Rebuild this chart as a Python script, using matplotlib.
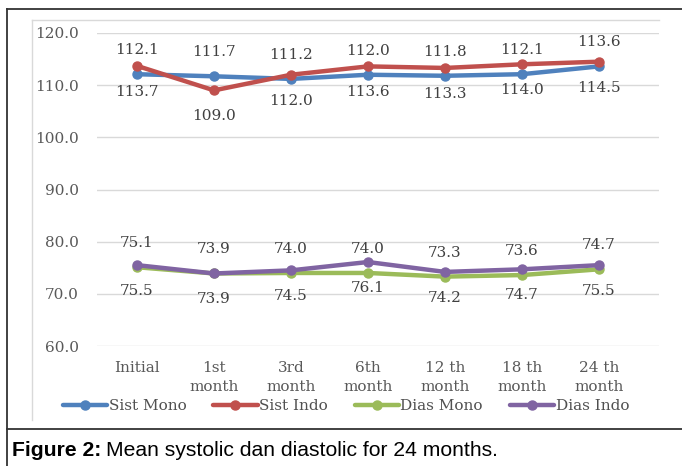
import matplotlib.pyplot as plt
from matplotlib.lines import Line2D

# data
months = ['Initial', '1st\nmonth', '3rd\nmonth', '6th\nmonth', '12 th\nmonth', '18 th\nmonth', '24 th\nmonth']
sist_mono = [112.1, 111.7, 111.2, 112.0, 111.8, 112.1, 113.6]
sist_indo = [113.7, 109.0, 112.0, 113.6, 113.3, 114.0, 114.5]
dias_mono = [75.1, 73.9, 74.0, 74.0, 73.3, 73.6, 74.7]
dias_indo = [75.5, 73.9, 74.5, 76.1, 74.2, 74.7, 75.5]
series_names = ['Sist Mono', 'Sist Indo', 'Dias Mono', 'Dias Indo']
y_ticks = [60, 70, 80, 90, 100, 110, 120]

colors = ['#4F81BD', '#C0504D', '#9BBB59', '#8064A2']
# label above (True) or below (False) the point
label_above = [True, False, True, False]

plt.rcParams['font.family'] = ['DejaVu Serif']

W, H = 682, 466
fig = plt.figure(figsize=(W / 100, H / 100), dpi=100)

# outer frame and caption separator
fig.add_artist(Line2D([7 / W, 7 / W], [0, 1 - 9 / H], color='#333333', lw=1.3))
fig.add_artist(Line2D([7 / W, 1], [1 - 9 / H, 1 - 9 / H], color='#333333', lw=1.3))
fig.add_artist(Line2D([7 / W, 1], [1 - 429 / H, 1 - 429 / H], color='#333333', lw=1.3))
# chart area border (left + top only)
fig.add_artist(Line2D([32 / W, 32 / W], [1 - 420 / H, 1 - 20 / H], color='#D9D9D9', lw=1))
fig.add_artist(Line2D([32 / W, 659 / W], [1 - 20 / H, 1 - 20 / H], color='#D9D9D9', lw=1))

ax = fig.add_axes([97 / W, 1 - 346 / H, 562 / W, 313 / H])

x = list(range(len(months)))
all_series = [sist_mono, sist_indo, dias_mono, dias_indo]
for vals, name, c, up in zip(all_series, series_names, colors, label_above):
    ax.plot(x, vals, color=c, lw=3.2, marker='o', markersize=6.5, label=name,
            solid_capstyle='round')
    for xi, v in zip(x, vals):
        ax.annotate(f'{v:.1f}', (xi, v), xytext=(0, 24 if up else -26),
                    textcoords='offset pixels', ha='center', va='center',
                    fontsize=11, color='#404040')

ax.set_ylim(60, 120)
ax.set_xlim(-0.52, 6.78)
ax.set_yticks(y_ticks)
ax.set_yticklabels([f'{t:.1f}' for t in y_ticks], fontsize=11, color='#595959')
ax.set_xticks(x)
ax.set_xticklabels(months, fontsize=11, color='#595959', linespacing=1.45)
ax.tick_params(length=0)
ax.tick_params(axis='y', pad=13)
ax.tick_params(axis='x', pad=11)
ax.grid(axis='y', color='#D9D9D9', lw=1)
ax.set_axisbelow(True)
for s in ax.spines.values():
    s.set_visible(False)

handles, labels = ax.get_legend_handles_labels()
leg = fig.legend(handles, labels, loc='center', bbox_to_anchor=(346 / W, 1 - 406 / H),
                 ncol=4, frameon=False, fontsize=11, handlelength=2.9,
                 handletextpad=0.1, columnspacing=1.75, borderpad=0)
for t in leg.get_texts():
    t.set_color('#505050')

fig.text(12 / W, 1 - 450 / H, 'Figure 2:', fontsize=15.2, fontweight='bold',
         family='Liberation Sans', va='center', ha='left')
fig.text(106 / W, 1 - 450 / H, 'Mean systolic dan diastolic for 24 months.', fontsize=15.2,
         family='Liberation Sans', va='center', ha='left')

fig.savefig('out.png', dpi=100)
